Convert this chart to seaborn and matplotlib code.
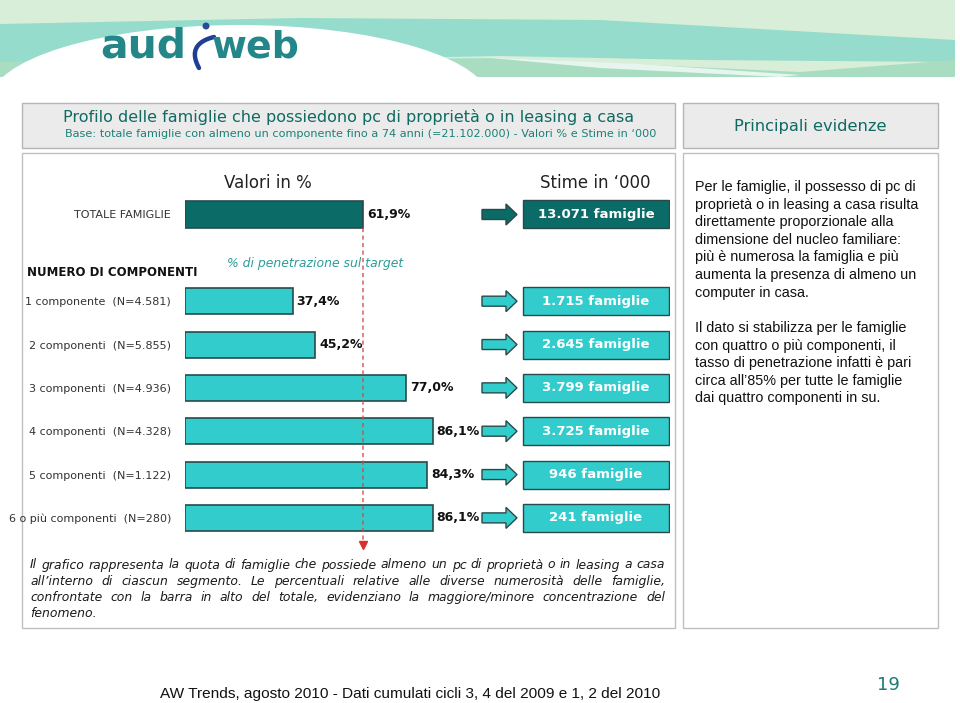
import numpy as np
import pandas as pd
import matplotlib
matplotlib.use("Agg")
import matplotlib.pyplot as plt
import seaborn as sns
from matplotlib.patches import Rectangle, FancyArrow, Ellipse, Polygon
from matplotlib import font_manager

# ---------------- data ----------------
categories = ["TOTALE FAMIGLIE",
              "1 componente  (N=4.581)",
              "2 componenti  (N=5.855)",
              "3 componenti  (N=4.936)",
              "4 componenti  (N=4.328)",
              "5 componenti  (N=1.122)",
              "6 o più componenti  (N=280)"]
penetration = [61.9, 37.4, 45.2, 77.0, 86.1, 84.3, 86.1]
value_labels = ["61,9%", "37,4%", "45,2%", "77,0%", "86,1%", "84,3%", "86,1%"]
stime_000 = ["13.071", "1.715", "2.645", "3.799", "3.725", "946", "241"]
spacer = " "

title = "Profilo delle famiglie che possiedono pc di proprietà o in leasing a casa"
subtitle = "Base: totale famiglie con almeno un componente fino a 74 anni (=21.102.000) - Valori % e Stime in \u2018000"
side_par1 = ["Per le famiglie, il possesso di pc di",
             "proprietà o in leasing a casa risulta",
             "direttamente proporzionale alla",
             "dimensione del nucleo familiare:",
             "più è numerosa la famiglia e più",
             "aumenta la presenza di almeno un",
             "computer in casa."]
side_par2 = ["Il dato si stabilizza per le famiglie",
             "con quattro o più componenti, il",
             "tasso di penetrazione infatti è pari",
             "circa all\u201985% per tutte le famiglie",
             "dai quattro componenti in su."]
note_lines = ["Il grafico rappresenta la quota di famiglie che possiede almeno un pc di proprietà o in leasing a casa",
              "all\u2019interno di ciascun segmento. Le percentuali relative alle diverse numerosità delle famiglie,",
              "confrontate con la barra in alto del totale, evidenziano la maggiore/minore concentrazione del",
              "fenomeno."]
footer = "AW Trends, agosto 2010 - Dati cumulati cicli 3, 4 del 2009 e 1, 2 del 2010"

# ---------------- style ----------------
sns.set_theme(style="white")
plt.rcParams["font.family"] = ["DejaVu Sans"]
avail = {f.name for f in font_manager.fontManager.ttflist}
narrow = "Liberation Sans Narrow" if "Liberation Sans Narrow" in avail else "Liberation Sans"

DARK = "#0b6b67"
LIGHT = "#33cccc"
EDGE = "#2a4a4a"
TEAL_TXT = "#0e6a62"

W, H = 960, 703
fig = plt.figure(figsize=(9.6, 7.03), dpi=100)
fig.patch.set_facecolor("white")
bg = fig.add_axes([0, 0, 1, 1], zorder=0)
bg.set_xlim(0, W)
bg.set_ylim(H, 0)
bg.axis("off")
renderer = fig.canvas.get_renderer()

# ---------------- header banner ----------------
bg.add_patch(Rectangle((0, 0), 955, 77, fc="#d8eed8", ec="none"))
bg.add_patch(Polygon([(0, 24), (300, 18), (600, 20), (955, 40), (955, 62), (700, 60),
                      (500, 56), (300, 60), (0, 66)], closed=True, fc="#95dccd", ec="none"))
bg.add_patch(Polygon([(0, 62), (500, 58), (800, 72), (955, 60), (955, 77), (0, 77)],
                     closed=True, fc="#a9ddc2", ec="none"))
bg.add_patch(Polygon([(480, 57), (640, 64), (800, 75), (780, 77), (600, 68)], closed=True,
                     fc="#e6f5ee", ec="none"))
bg.add_patch(Ellipse((240, 101), 500, 152, fc="white", ec="none"))
bg.add_patch(Rectangle((0, 77), 960, 30, fc="white", ec="none"))


def fit(x, y, s, target_w, base=10, **kw):
    t = bg.text(x, y, s, fontsize=base, **kw)
    w = t.get_window_extent(renderer).width
    t.set_fontsize(base * target_w / w)
    return t


fit(100, 58, "aud", 86, fontweight="bold", color="#23878a", va="baseline", ha="left")
fit(212, 58, "web", 88, fontweight="bold", color="#23878a", va="baseline", ha="left")
tt = np.linspace(0, 1, 30)
p0, p1, p2 = np.array([199, 68]), np.array([186, 44]), np.array([214, 37])
curve = ((1 - tt) ** 2)[:, None] * p0 + (2 * (1 - tt) * tt)[:, None] * p1 + (tt ** 2)[:, None] * p2
bg.plot(curve[:, 0], curve[:, 1], color="#1f3f95", lw=3.2, solid_capstyle="round")
bg.add_patch(Ellipse((206, 26), 7, 7, fc="#2a4aa0", ec="none"))

# ---------------- boxes ----------------
bg.add_patch(Rectangle((22, 103), 653, 45, fc="#ebebeb", ec="#b5b5b5", lw=1))
bg.add_patch(Rectangle((683, 103), 255, 45, fc="#ebebeb", ec="#b5b5b5", lw=1))
bg.add_patch(Rectangle((22, 153), 653, 475, fc="white", ec="#c0c0c0", lw=1))
bg.add_patch(Rectangle((683, 153), 255, 475, fc="white", ec="#c0c0c0", lw=1))

fit(349, 117, title, 568, color=TEAL_TXT, ha="center", va="center")
fit(361, 134, subtitle, 592, color="#1b8079", ha="center", va="center")
fit(810, 126, "Principali evidenze", 152, color=TEAL_TXT, ha="center", va="center")

# ---------------- chart ----------------
px_left, px_right, px_top, px_bot = 185, 670, 193, 540
ax = fig.add_axes([px_left / W, 1 - px_bot / H, (px_right - px_left) / W, (px_bot - px_top) / H], zorder=2)
ax.patch.set_alpha(0)
df = pd.DataFrame({"categoria": categories, "penetrazione": penetration})
order = [categories[0], spacer] + categories[1:]
palette = {c: (DARK if i == 0 else LIGHT) for i, c in enumerate(categories)}
sns.barplot(data=df, x="penetrazione", y="categoria", hue="categoria", order=order,
            palette=palette, legend=False, width=0.6, saturation=1,
            edgecolor=EDGE, linewidth=1.2, orient="h", ax=ax)
scale = 2.876  # px per %
unit = (px_bot - px_top) / 8.006  # px per category
ax.set_xlim(0, (px_right - px_left) / scale)
ax.set_ylim(7.51, -0.496)
ax.set_xticks([])
ax.set_xlabel("")
ax.set_ylabel("")
ax.tick_params(axis="y", length=0, pad=10, labelsize=8, labelcolor="#333333")
sns.despine(ax=ax, left=True, bottom=True)

xa0 = (482 - px_left) / scale
bx0 = (523 - px_left) / scale
bx1 = (669 - px_left) / scale
for i, c in enumerate(categories):
    y = order.index(c)
    v = penetration[i]
    ax.text(v + 4 / scale, y, value_labels[i], va="center", ha="left",
            fontsize=9, fontweight="bold", color="#111111")
    fc = DARK if i == 0 else LIGHT
    ax.add_patch(FancyArrow(xa0, y, 35 / scale, 0, width=10 / unit, head_width=21 / unit,
                            head_length=11 / scale, length_includes_head=True,
                            fc=fc, ec=EDGE, lw=1, zorder=3))
    ax.add_patch(Rectangle((bx0, y - 14 / unit), bx1 - bx0, 28 / unit, fc=fc, ec=EDGE, lw=1, zorder=3))
    ax.text((bx0 + bx1) / 2, y, f"{stime_000[i]} famiglie", ha="center", va="center",
            fontsize=9.5, fontweight="bold", color="white", zorder=4)

# reference line at total value
y_end = (545 - px_top) / unit - 0.496
ax.plot([penetration[0], penetration[0]], [0.3, y_end - 0.1], ls=(0, (2.5, 2)), color="#d04848",
        lw=1.2, alpha=0.8, clip_on=False, zorder=5)
ax.plot([penetration[0]], [y_end], marker="v", ms=6, color="#d83030", clip_on=False, zorder=5)

bg.text(268, 183, "Valori in %", fontsize=12, color="#222222", ha="center", va="center")
bg.text(595, 183, "Stime in \u2018000", fontsize=12, color="#222222", ha="center", va="center")
fit(227, 264, "% di penetrazione sul target", 176, style="italic",
    color="#2a9d9a", ha="left", va="center", zorder=1)
bg.text(27, 272, "NUMERO DI COMPONENTI", fontsize=8.5, fontweight="bold",
        color="#111111", ha="left", va="center")

# ---------------- side text ----------------
probe = bg.text(0, 0, side_par1[1], fontsize=10, family="Liberation Sans")
side_size = 10 * 223 / probe.get_window_extent(renderer).width
probe.remove()
for k, line in enumerate(side_par1):
    bg.text(695, 187 + 17.6 * k, line, fontsize=side_size, family="Liberation Sans",
            color="#111111", ha="left", va="center")
for k, line in enumerate(side_par2):
    bg.text(695, 328 + 17.6 * k, line, fontsize=side_size, family="Liberation Sans",
            color="#111111", ha="left", va="center")

# ---------------- justified note ----------------
note_kw = dict(style="italic", color="#1a1a1a", va="center", ha="left")
probe = bg.text(0, 0, note_lines[0], fontsize=10, **note_kw)
note_size = 10 * 622 / probe.get_window_extent(renderer).width
probe.remove()
p1t = bg.text(0, 0, "a a", fontsize=note_size, **note_kw)
p2t = bg.text(0, 0, "aa", fontsize=note_size, **note_kw)
space_w = p1t.get_window_extent(renderer).width - p2t.get_window_extent(renderer).width
p1t.remove()
p2t.remove()
x0n, x1n = 30, 665
for li, line in enumerate(note_lines):
    yy = 565 + 16.2 * li
    words = line.split(" ")
    ts = [bg.text(0, yy, w, fontsize=note_size, **note_kw) for w in words]
    widths = [t.get_window_extent(renderer).width for t in ts]
    if li == len(note_lines) - 1 or len(words) == 1:
        gap = space_w
    else:
        gap = (x1n - x0n - sum(widths)) / (len(words) - 1)
    xx = x0n
    for t, w in zip(ts, widths):
        t.set_x(xx)
        xx += w + gap

# ---------------- footer ----------------
fit(410, 694, footer, 500, family=narrow, color="#111111", ha="center", va="center")
bg.text(888, 685, "19", fontsize=13, color="#1d7a74", ha="center", va="center")

fig.savefig("out.png", dpi=100)
